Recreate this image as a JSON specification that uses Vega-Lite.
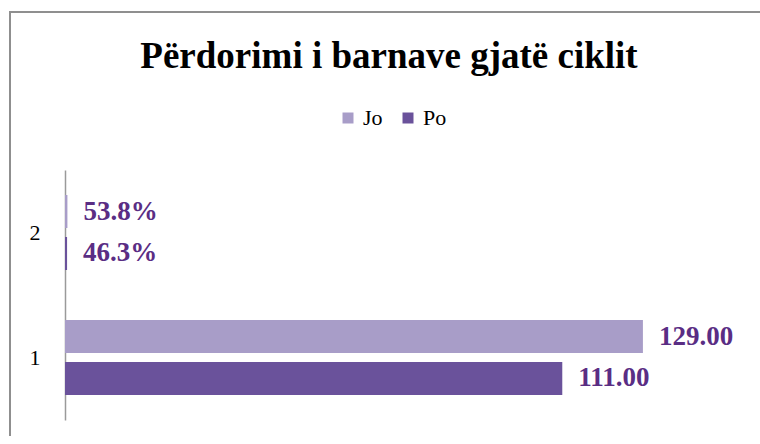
{
  "$schema": "https://vega.github.io/schema/vega-lite/v6.json",
  "width": 1000,
  "height": 600,
  "autosize": {"type": "none"},
  "padding": {"left": 10, "top": 12, "right": -244, "bottom": -176},
  "background": "white",
  "config": {
    "view": {"stroke": "#8f8f8f", "strokeWidth": 2},
    "font": "Liberation Serif"
  },
  "title": {
    "text": "Përdorimi i barnave gjatë ciklit",
    "font": "Liberation Serif",
    "fontSize": 37,
    "fontWeight": "bold",
    "color": "black",
    "anchor": "start",
    "align": "center",
    "frame": "group",
    "baseline": "alphabetic",
    "dx": 379,
    "dy": 97
  },
  "data": {
    "values": [
      {"cat": "1", "series": "Jo", "value": 129, "label": "129.00"},
      {"cat": "1", "series": "Po", "value": 111, "label": "111.00"},
      {"cat": "2", "series": "Jo", "value": 0.538, "label": "53.8%"},
      {"cat": "2", "series": "Po", "value": 0.463, "label": "46.3%"}
    ]
  },
  "encoding": {
    "y": {
      "field": "cat",
      "type": "nominal",
      "sort": ["2", "1"],
      "scale": {"range": [158, 408], "paddingInner": 0.4, "paddingOuter": 0.2},
      "axis": {
        "title": null,
        "offset": -55,
        "ticks": false,
        "labelFont": "Liberation Serif",
        "labelFontSize": 22,
        "labelColor": "black",
        "labelPadding": 25,
        "labelAngle": 0,
        "domainColor": "#9a9a9a",
        "domainWidth": 1.5,
        "grid": false
      }
    },
    "yOffset": {
      "field": "series",
      "sort": ["Jo", "Po"],
      "scale": {"paddingInner": 0.214, "paddingOuter": 0}
    },
    "x": {
      "field": "value",
      "type": "quantitative",
      "scale": {"domain": [0, 150], "range": [55, 727], "nice": false},
      "axis": null
    }
  },
  "layer": [
    {
      "mark": {"type": "bar"},
      "encoding": {
        "color": {
          "field": "series",
          "type": "nominal",
          "scale": {"domain": ["Jo", "Po"], "range": ["#a89dc8", "#6a529b"]},
          "legend": {
            "title": null,
            "orient": "none",
            "legendX": 327,
            "legendY": 95,
            "direction": "horizontal",
            "symbolType": "square",
            "symbolSize": 121,
            "symbolStrokeWidth": 0,
            "labelFont": "Liberation Serif",
            "labelFontSize": 22,
            "labelColor": "black",
            "labelOffset": 4,
            "columnPadding": 14
          }
        }
      }
    },
    {
      "mark": {
        "type": "text",
        "align": "left",
        "baseline": "middle",
        "dx": 16,
        "font": "Liberation Serif",
        "fontSize": 27,
        "fontWeight": "bold",
        "color": "#5a2d84"
      },
      "encoding": {"text": {"field": "label"}}
    }
  ]
}
